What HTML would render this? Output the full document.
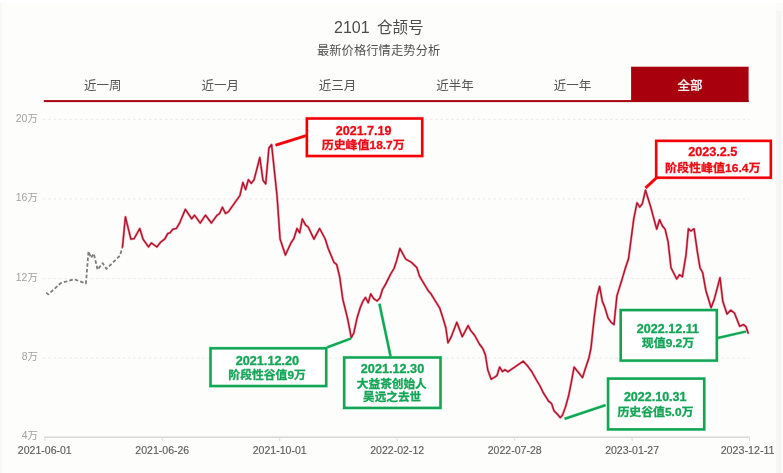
<!DOCTYPE html>
<html lang="zh-CN">
<head>
<meta charset="utf-8">
<title>2101 仓颉号 最新价格行情走势分析</title>
<style>
html,body{margin:0;padding:0;}
body{width:783px;height:473px;overflow:hidden;background:#fbfbfb;font-family:"Liberation Sans", "Noto Sans CJK SC", sans-serif;position:relative;}
#panel{position:absolute;left:0;top:0;width:776px;height:473px;background:#fdfdfc;}
#edge{position:absolute;left:0;top:0;width:1.5px;height:473px;background:#f8f8f7;}
#top{position:absolute;left:0;top:0;width:783px;height:3px;background:#fefefe;}
#rstripe{position:absolute;left:776px;top:11px;width:4.5px;height:462px;background:#f5f5f5;}
svg{position:absolute;left:0;top:0;font-family:"Liberation Sans", "Noto Sans CJK SC", sans-serif;filter:blur(0.4px);}
</style>
</head>
<body>
<div id="panel"></div>
<div id="edge"></div><div id="top"></div><div id="rstripe"></div>
<svg width="783" height="473" viewBox="0 0 783 473">
<rect x="631.1" y="66.7" width="117.5" height="35.3" fill="#a8000d"/>
<rect x="43.8" y="100.1" width="704.8" height="2.0" fill="#a8000d"/>
<text x="102.7" y="89.9" text-anchor="middle" font-size="12.5" fill="#555">近一周</text>
<text x="220.2" y="89.9" text-anchor="middle" font-size="12.5" fill="#555">近一月</text>
<text x="337.6" y="89.9" text-anchor="middle" font-size="12.5" fill="#555">近三月</text>
<text x="455.1" y="89.9" text-anchor="middle" font-size="12.5" fill="#555">近半年</text>
<text x="572.5" y="89.9" text-anchor="middle" font-size="12.5" fill="#555">近一年</text>
<text x="690.0" y="89.9" text-anchor="middle" font-size="12.5" fill="#fff" stroke="#fff" stroke-width="0.3">全部</text>
<text x="334.0" y="32.8" font-size="16" fill="#4c4c4c"><tspan>2101</tspan> <tspan x="376.9" y="32.6" font-size="15.6">仓颉号</tspan></text>
<text x="378.6" y="54.8" text-anchor="middle" font-size="12.3" fill="#505050" textLength="123.4">最新价格行情走势分析</text>
<line x1="43" y1="119.3" x2="749.5" y2="119.3" stroke="#ededed" stroke-width="1.2" stroke-dasharray="2.6 2.7"/>
<line x1="43" y1="198.9" x2="749.5" y2="198.9" stroke="#ededed" stroke-width="1.2" stroke-dasharray="2.6 2.7"/>
<line x1="43" y1="278.5" x2="749.5" y2="278.5" stroke="#ededed" stroke-width="1.2" stroke-dasharray="2.6 2.7"/>
<line x1="43" y1="358.1" x2="749.5" y2="358.1" stroke="#ededed" stroke-width="1.2" stroke-dasharray="2.6 2.7"/>
<line x1="44.4" y1="437.2" x2="750" y2="437.2" stroke="#d8d8d8" stroke-width="1.6"/>
<line x1="44.8" y1="437.2" x2="44.8" y2="441" stroke="#dadada" stroke-width="1"/>
<line x1="162.3" y1="437.2" x2="162.3" y2="441" stroke="#dadada" stroke-width="1"/>
<line x1="279.7" y1="437.2" x2="279.7" y2="441" stroke="#dadada" stroke-width="1"/>
<line x1="397.2" y1="437.2" x2="397.2" y2="441" stroke="#dadada" stroke-width="1"/>
<line x1="514.7" y1="437.2" x2="514.7" y2="441" stroke="#dadada" stroke-width="1"/>
<line x1="632.1" y1="437.2" x2="632.1" y2="441" stroke="#dadada" stroke-width="1"/>
<line x1="749.6" y1="437.2" x2="749.6" y2="441" stroke="#dadada" stroke-width="1"/>
<text x="37.8" y="121.5" text-anchor="end" font-size="10.4" fill="#a0a0a0">20万</text>
<text x="37.8" y="201.2" text-anchor="end" font-size="10.4" fill="#a0a0a0">16万</text>
<text x="37.8" y="280.7" text-anchor="end" font-size="10.4" fill="#a0a0a0">12万</text>
<text x="37.8" y="360.3" text-anchor="end" font-size="10.4" fill="#a0a0a0">8万</text>
<text x="37.8" y="438.8" text-anchor="end" font-size="10.4" fill="#a0a0a0">4万</text>
<text x="44.8" y="454.2" text-anchor="middle" font-size="11.4" fill="#5c5c5c" stroke="#5c5c5c" stroke-width="0.15" textLength="53.9" lengthAdjust="spacingAndGlyphs">2021-06-01</text>
<text x="162.3" y="454.2" text-anchor="middle" font-size="11.4" fill="#5c5c5c" stroke="#5c5c5c" stroke-width="0.15" textLength="53.9" lengthAdjust="spacingAndGlyphs">2021-06-26</text>
<text x="279.7" y="454.2" text-anchor="middle" font-size="11.4" fill="#5c5c5c" stroke="#5c5c5c" stroke-width="0.15" textLength="53.9" lengthAdjust="spacingAndGlyphs">2021-10-01</text>
<text x="397.2" y="454.2" text-anchor="middle" font-size="11.4" fill="#5c5c5c" stroke="#5c5c5c" stroke-width="0.15" textLength="53.9" lengthAdjust="spacingAndGlyphs">2022-02-12</text>
<text x="514.7" y="454.2" text-anchor="middle" font-size="11.4" fill="#5c5c5c" stroke="#5c5c5c" stroke-width="0.15" textLength="53.9" lengthAdjust="spacingAndGlyphs">2022-07-28</text>
<text x="632.1" y="454.2" text-anchor="middle" font-size="11.4" fill="#5c5c5c" stroke="#5c5c5c" stroke-width="0.15" textLength="53.9" lengthAdjust="spacingAndGlyphs">2023-01-27</text>
<text x="747.6" y="454.2" text-anchor="middle" font-size="11.4" fill="#5c5c5c" stroke="#5c5c5c" stroke-width="0.15" textLength="53.9" lengthAdjust="spacingAndGlyphs">2023-12-11</text>
<polyline points="46.2,292.6 48.3,294.4 60.8,283.1 74.2,279.3 85.9,283.5 88.5,251.4 91,257.9 93.8,253.7 97.6,269.7 102.5,263.1 106.5,268.9 119.8,255.8 122.5,247.2" fill="none" stroke="#7c7c7c" stroke-width="1.8" stroke-dasharray="3.6 2.1" stroke-linejoin="round"/>
<polyline points="122.5,246.9 125.4,216.9 130.9,239.1 134.1,238.7 139.8,228.5 143,239.1 148.5,246.9 151.4,242.9 156.9,246.9 160.5,242.3 164.7,239.1 167.9,233.4 170,232.8 172.7,229.4 176.5,228.3 179.8,222.6 185.4,209.3 191.7,218.8 194.5,215.2 200.2,223 205.5,215.2 211.4,223 217.1,215.2 219.6,213.5 222.4,207.2 225.5,213.5 228.7,211.4 239.9,195.5 242.9,182.4 245.6,189.6 248.4,179.7 251.3,183.3 254.1,179.7 259.8,157.5 263,180.3 265.7,183.9 268.9,148 271.6,144.6 277,195.5 280.1,239.1 285.4,255 291.3,242.3 293.8,238.7 297,228.5 299.7,232.8 302.3,219 305.5,224.9 308.2,227.1 313.9,239.1 319.6,228.5 325.1,238.7 328.1,248.2 334,262.4 336.7,264.5 339.7,277 342.8,299.3 347.5,318.2 351.3,337.7 353.8,333 357,318.2 360.2,307.7 362.9,301.3 365.5,297.5 368.2,302.8 370.7,293.9 373.9,298.8 377.1,300.9 379.8,298.1 382.4,289.7 385.5,284.4 390.8,273.8 394,268.5 396.5,261.1 399.9,248.5 405.6,259 411.3,262.2 416.8,267.5 419.4,275.9 422.5,281.2 428.2,290.7 431,293.9 434.2,299.2 439.7,308 442.6,317 445.8,327.7 448,342.8 451.1,337.1 456.8,322.3 462.3,336.7 468.1,325.5 470.8,330.7 474.4,335 479.7,344.5 482.9,348.7 485.4,355 487.8,370 491.2,379.3 494.5,377.3 497,375.5 499.6,367.1 502.5,371.6 505,369.7 507.9,371.8 523.2,361.2 527.3,365.6 531.8,371.7 537,381 540.3,386.5 543.4,392.9 548.7,401.3 551.5,403.4 554,410.8 557.2,414 560.3,417.6 562.5,415.1 565.6,406.6 568.8,395 571.3,382.3 574.1,367.1 582.5,377.6 585.7,367.5 588.9,358 591,348 594.3,317.1 597.1,295.9 599.6,286.4 602.3,301.2 604.9,307.6 608.1,318.1 611.2,322.4 614,324.5 616.9,295.9 621.8,280.1 625.4,268 628.5,258.8 633.8,218.6 637,202.8 639.7,207 642.3,203.8 645.5,190.1 650.7,207 656.7,229.2 659.6,219.7 662.4,226 665.1,229.2 668.1,241.9 671,267.8 676.7,279 679.6,274.7 682.4,276.8 686,255 688.4,228.8 690.9,230.9 694.1,228.8 697.3,251.4 700,267.8 702.7,272.8 705.9,290.7 711.1,307.7 714.3,299.2 720,277.6 722.8,301.3 727,314 730.8,310.2 734.4,312.9 739.7,326.3 743.5,324.6 746,326.7 748.1,333" fill="none" stroke="#ee4560" stroke-opacity="0.65" stroke-width="2.4" stroke-linejoin="round" stroke-linecap="round"/>
<polyline points="122.5,246.9 125.4,216.9 130.9,239.1 134.1,238.7 139.8,228.5 143,239.1 148.5,246.9 151.4,242.9 156.9,246.9 160.5,242.3 164.7,239.1 167.9,233.4 170,232.8 172.7,229.4 176.5,228.3 179.8,222.6 185.4,209.3 191.7,218.8 194.5,215.2 200.2,223 205.5,215.2 211.4,223 217.1,215.2 219.6,213.5 222.4,207.2 225.5,213.5 228.7,211.4 239.9,195.5 242.9,182.4 245.6,189.6 248.4,179.7 251.3,183.3 254.1,179.7 259.8,157.5 263,180.3 265.7,183.9 268.9,148 271.6,144.6 277,195.5 280.1,239.1 285.4,255 291.3,242.3 293.8,238.7 297,228.5 299.7,232.8 302.3,219 305.5,224.9 308.2,227.1 313.9,239.1 319.6,228.5 325.1,238.7 328.1,248.2 334,262.4 336.7,264.5 339.7,277 342.8,299.3 347.5,318.2 351.3,337.7 353.8,333 357,318.2 360.2,307.7 362.9,301.3 365.5,297.5 368.2,302.8 370.7,293.9 373.9,298.8 377.1,300.9 379.8,298.1 382.4,289.7 385.5,284.4 390.8,273.8 394,268.5 396.5,261.1 399.9,248.5 405.6,259 411.3,262.2 416.8,267.5 419.4,275.9 422.5,281.2 428.2,290.7 431,293.9 434.2,299.2 439.7,308 442.6,317 445.8,327.7 448,342.8 451.1,337.1 456.8,322.3 462.3,336.7 468.1,325.5 470.8,330.7 474.4,335 479.7,344.5 482.9,348.7 485.4,355 487.8,370 491.2,379.3 494.5,377.3 497,375.5 499.6,367.1 502.5,371.6 505,369.7 507.9,371.8 523.2,361.2 527.3,365.6 531.8,371.7 537,381 540.3,386.5 543.4,392.9 548.7,401.3 551.5,403.4 554,410.8 557.2,414 560.3,417.6 562.5,415.1 565.6,406.6 568.8,395 571.3,382.3 574.1,367.1 582.5,377.6 585.7,367.5 588.9,358 591,348 594.3,317.1 597.1,295.9 599.6,286.4 602.3,301.2 604.9,307.6 608.1,318.1 611.2,322.4 614,324.5 616.9,295.9 621.8,280.1 625.4,268 628.5,258.8 633.8,218.6 637,202.8 639.7,207 642.3,203.8 645.5,190.1 650.7,207 656.7,229.2 659.6,219.7 662.4,226 665.1,229.2 668.1,241.9 671,267.8 676.7,279 679.6,274.7 682.4,276.8 686,255 688.4,228.8 690.9,230.9 694.1,228.8 697.3,251.4 700,267.8 702.7,272.8 705.9,290.7 711.1,307.7 714.3,299.2 720,277.6 722.8,301.3 727,314 730.8,310.2 734.4,312.9 739.7,326.3 743.5,324.6 746,326.7 748.1,333" fill="none" stroke="#a8122a" stroke-width="1.25" stroke-linejoin="round" stroke-linecap="round"/>
<line x1="275.5" y1="145.2" x2="306.5" y2="135.6" stroke="#ff5050" stroke-opacity="0.45" stroke-width="3.5"/>
<line x1="275.5" y1="145.2" x2="306.5" y2="135.6" stroke="#f20008" stroke-width="2.6"/>
<line x1="645.5" y1="188" x2="656" y2="178.2" stroke="#ff5050" stroke-opacity="0.45" stroke-width="3.5"/>
<line x1="645.5" y1="188" x2="656" y2="178.2" stroke="#f20008" stroke-width="2.6"/>
<line x1="327" y1="347.4" x2="351" y2="338.5" stroke="#3ed683" stroke-opacity="0.45" stroke-width="3.1999999999999997"/>
<line x1="327" y1="347.4" x2="351" y2="338.5" stroke="#13a555" stroke-width="2.3"/>
<line x1="379.4" y1="303.7" x2="390.6" y2="356.5" stroke="#3ed683" stroke-opacity="0.45" stroke-width="3.1999999999999997"/>
<line x1="379.4" y1="303.7" x2="390.6" y2="356.5" stroke="#13a555" stroke-width="2.3"/>
<line x1="564.6" y1="418.8" x2="605.6" y2="405.1" stroke="#3ed683" stroke-opacity="0.45" stroke-width="3.1999999999999997"/>
<line x1="564.6" y1="418.8" x2="605.6" y2="405.1" stroke="#13a555" stroke-width="2.3"/>
<line x1="717" y1="338.2" x2="746" y2="331.5" stroke="#3ed683" stroke-opacity="0.45" stroke-width="3.1999999999999997"/>
<line x1="717" y1="338.2" x2="746" y2="331.5" stroke="#13a555" stroke-width="2.3"/>
<rect x="306.95" y="118.55" width="115.20" height="37.40" fill="#fff" stroke="#ff5050" stroke-opacity="0.45" stroke-width="3.4"/>
<rect x="306.95" y="118.55" width="115.20" height="37.40" fill="#fff" stroke="#f20008" stroke-width="2.5"/>
<text x="363.6" y="134.6" text-anchor="middle" font-size="12" font-weight="bold" fill="#ea0c16" stroke="#ea0c16" stroke-width="0.3" textLength="55.7" lengthAdjust="spacingAndGlyphs">2021.7.19</text>
<text x="363.2" y="149.0" text-anchor="middle" font-size="11.7" font-weight="bold" fill="#ea0c16" stroke="#ea0c16" stroke-width="0.3" textLength="83.0" lengthAdjust="spacingAndGlyphs">历史峰值18.7万</text>
<rect x="656.25" y="140.95" width="114.50" height="36.70" fill="#fff" stroke="#ff5050" stroke-opacity="0.45" stroke-width="3.4"/>
<rect x="656.25" y="140.95" width="114.50" height="36.70" fill="#fff" stroke="#f20008" stroke-width="2.5"/>
<text x="712.8" y="156.4" text-anchor="middle" font-size="12" font-weight="bold" fill="#ea0c16" stroke="#ea0c16" stroke-width="0.3" textLength="49.2" lengthAdjust="spacingAndGlyphs">2023.2.5</text>
<text x="712.7" y="171.6" text-anchor="middle" font-size="11.7" font-weight="bold" fill="#ea0c16" stroke="#ea0c16" stroke-width="0.3" textLength="95.6" lengthAdjust="spacingAndGlyphs">阶段性峰值16.4万</text>
<rect x="210.55" y="348.35" width="115.60" height="37.60" fill="#fff" stroke="#3ed683" stroke-opacity="0.45" stroke-width="3.4"/>
<rect x="210.55" y="348.35" width="115.60" height="37.60" fill="#fff" stroke="#13a555" stroke-width="2.5"/>
<text x="267.4" y="364.9" text-anchor="middle" font-size="12" font-weight="bold" fill="#14a556" stroke="#14a556" stroke-width="0.3" textLength="63.5" lengthAdjust="spacingAndGlyphs">2021.12.20</text>
<text x="267.1" y="378.9" text-anchor="middle" font-size="11.7" font-weight="bold" fill="#14a556" stroke="#14a556" stroke-width="0.3" textLength="77.5" lengthAdjust="spacingAndGlyphs">阶段性谷值9万</text>
<rect x="344.25" y="357.55" width="96.20" height="50.30" fill="#fff" stroke="#3ed683" stroke-opacity="0.45" stroke-width="3.4"/>
<rect x="344.25" y="357.55" width="96.20" height="50.30" fill="#fff" stroke="#13a555" stroke-width="2.5"/>
<text x="392.5" y="373.1" text-anchor="middle" font-size="12" font-weight="bold" fill="#14a556" stroke="#14a556" stroke-width="0.3" textLength="63.4" lengthAdjust="spacingAndGlyphs">2021.12.30</text>
<text x="391.8" y="387.8" text-anchor="middle" font-size="11.7" font-weight="bold" fill="#14a556" stroke="#14a556" stroke-width="0.3" textLength="70" lengthAdjust="spacingAndGlyphs">大益茶创始人</text>
<text x="392.1" y="401.2" text-anchor="middle" font-size="11.7" font-weight="bold" fill="#14a556" stroke="#14a556" stroke-width="0.3" textLength="58.2" lengthAdjust="spacingAndGlyphs">吴远之去世</text>
<rect x="608.15" y="378.65" width="96.00" height="50.70" fill="#fff" stroke="#3ed683" stroke-opacity="0.45" stroke-width="3.4"/>
<rect x="608.15" y="378.65" width="96.00" height="50.70" fill="#fff" stroke="#13a555" stroke-width="2.5"/>
<text x="655.2" y="401.3" text-anchor="middle" font-size="12" font-weight="bold" fill="#14a556" stroke="#14a556" stroke-width="0.3" textLength="62.6" lengthAdjust="spacingAndGlyphs">2022.10.31</text>
<text x="655.4" y="415.9" text-anchor="middle" font-size="11.7" font-weight="bold" fill="#14a556" stroke="#14a556" stroke-width="0.3" textLength="76" lengthAdjust="spacingAndGlyphs">历史谷值5.0万</text>
<rect x="620.75" y="310.15" width="96.00" height="50.40" fill="#fff" stroke="#3ed683" stroke-opacity="0.45" stroke-width="3.4"/>
<rect x="620.75" y="310.15" width="96.00" height="50.40" fill="#fff" stroke="#13a555" stroke-width="2.5"/>
<text x="667.9" y="333.3" text-anchor="middle" font-size="12" font-weight="bold" fill="#14a556" stroke="#14a556" stroke-width="0.3" textLength="62.1" lengthAdjust="spacingAndGlyphs">2022.12.11</text>
<text x="668" y="347.3" text-anchor="middle" font-size="11.7" font-weight="bold" fill="#14a556" stroke="#14a556" stroke-width="0.3" textLength="52.4" lengthAdjust="spacingAndGlyphs">现值9.2万</text>
</svg>
</body>
</html>
